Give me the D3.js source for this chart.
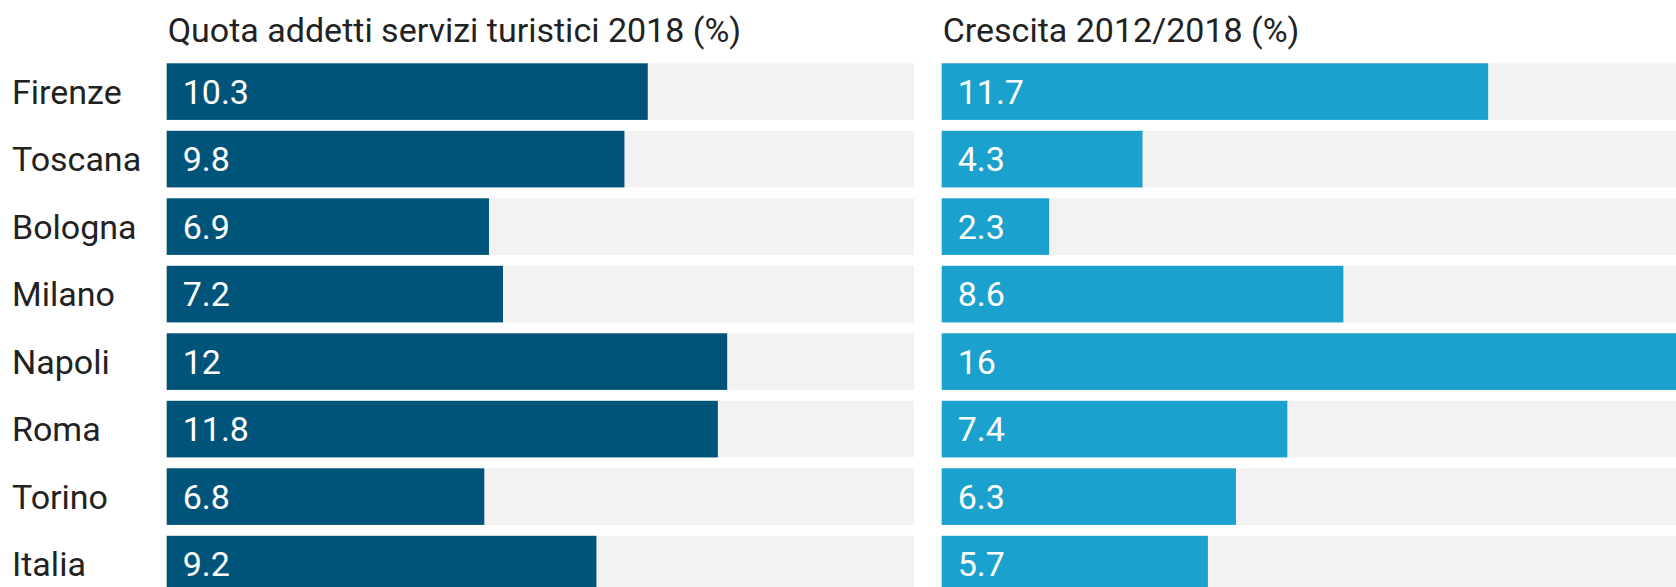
<!DOCTYPE html>
<html>
<head>
<meta charset="utf-8">
<script src="https://cdn.jsdelivr.net/npm/d3@7"></script>
<style>
  html, body { margin: 0; padding: 0; background: #fff; overflow: hidden; }
  text { font-family: Roboto, "Noto Sans", sans-serif; }
</style>
</head>
<body>
<svg id="chart" width="1676" height="587"></svg>
<script>
const categories = ["Firenze", "Toscana", "Bologna", "Milano", "Napoli", "Roma", "Torino", "Italia"];
const quota = [10.3, 9.8, 6.9, 7.2, 12, 11.8, 6.8, 9.2];
const crescita = [11.7, 4.3, 2.3, 8.6, 16, 7.4, 6.3, 5.7];
const quotaLabels = ["10.3", "9.8", "6.9", "7.2", "12", "11.8", "6.8", "9.2"];
const crescitaLabels = ["11.7", "4.3", "2.3", "8.6", "16", "7.4", "6.3", "5.7"];
const titles = ["Quota addetti servizi turistici 2018 (%)", "Crescita 2012/2018 (%)"];
const domainMax = 16;

const svg = d3.select("#chart");
const fontSize = 34;
const rowTop = 63.3, rowStep = 67.5, barH = 56.6;

const y = d3.scaleBand()
  .domain(categories)
  .range([rowTop, rowTop + rowStep * categories.length - (rowStep - barH)])
  .paddingInner((rowStep - barH) / rowStep)
  .paddingOuter(0)
  .align(0);

// Row labels
svg.append("g").selectAll("text")
  .data(categories).join("text")
  .attr("x", 12)
  .attr("y", d => y(d) + y.bandwidth() / 2)
  .attr("dy", "0.355em")
  .attr("font-size", fontSize)
  .attr("fill", "#222")
  .text(d => d);

const panels = [
  { x0: 166.7, values: quota, labels: quotaLabels, color: "#00547a", title: titles[0] },
  { x0: 941.7, values: crescita, labels: crescitaLabels, color: "#1ba1cd", title: titles[1] }
];
const panelW = 747.3;

panels.forEach(p => {
  const x = d3.scaleLinear().domain([0, domainMax]).range([p.x0, p.x0 + panelW]);
  const g = svg.append("g");

  g.append("text")
    .attr("x", p.x0 + 1)
    .attr("y", 42)
    .attr("font-size", fontSize)
    .attr("fill", "#222")
    .text(p.title);

  g.selectAll("rect.bg")
    .data(categories).join("rect")
    .attr("class", "bg")
    .attr("x", x(0))
    .attr("y", d => y(d))
    .attr("width", x(domainMax) - x(0))
    .attr("height", y.bandwidth())
    .attr("fill", "#f2f2f2");

  g.selectAll("rect.bar")
    .data(categories).join("rect")
    .attr("class", "bar")
    .attr("x", x(0))
    .attr("y", d => y(d))
    .attr("width", (d, i) => x(p.values[i]) - x(0))
    .attr("height", y.bandwidth())
    .attr("fill", p.color);

  g.selectAll("text.val")
    .data(categories).join("text")
    .attr("class", "val")
    .attr("x", x(0) + 16)
    .attr("y", d => y(d) + y.bandwidth() / 2)
    .attr("dy", "0.355em")
    .attr("font-size", fontSize)
    .attr("fill", "#fff")
    .text((d, i) => p.labels[i]);
});
</script>
</body>
</html>
